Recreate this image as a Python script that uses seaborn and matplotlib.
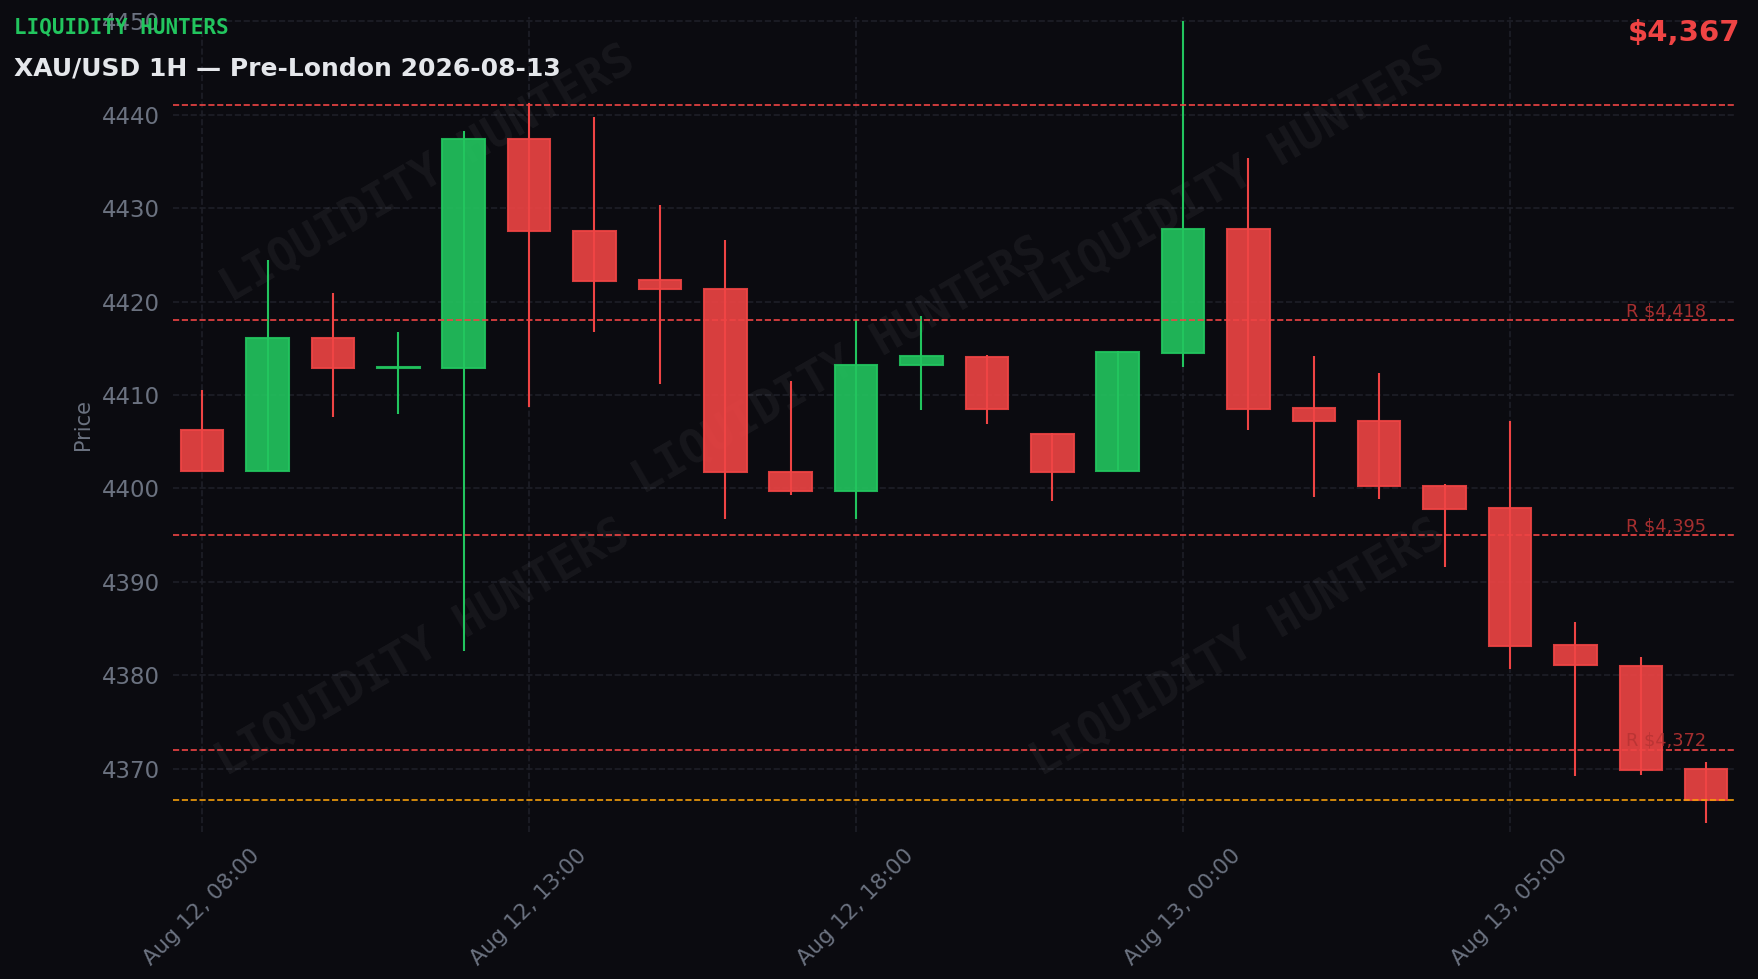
"""
XAU/USD 1H candles, pre-London session, dark "Liquidity Hunters" style.
"""

import matplotlib

matplotlib.use("Agg")
import matplotlib.pyplot as plt
import seaborn as sns
import numpy as np
import pandas as pd

# ---- data ----
# one hourly bar is missing around the daily break, so bars sit on an index axis
times = list(pd.date_range("2026-08-12 08:00", "2026-08-12 21:00", freq="h")) + \
        list(pd.date_range("2026-08-12 23:00", "2026-08-13 08:00", freq="h"))
opens = [4406.3, 4401.9, 4416.1, 4412.9, 4412.9, 4437.4, 4427.5, 4422.3,
         4421.3, 4401.8, 4399.7, 4413.2, 4414.1, 4405.8, 4401.9, 4414.5,
         4427.8, 4408.6, 4407.2, 4400.3, 4397.9, 4383.2, 4381.0, 4370.0]
highs = [4410.5, 4424.4, 4420.9, 4416.7, 4438.3, 4441.3, 4439.8, 4430.3,
         4426.6, 4411.5, 4418.0, 4418.5, 4414.3, 4405.9, 4414.7, 4450.0,
         4435.4, 4414.2, 4412.3, 4400.5, 4407.2, 4385.7, 4381.9, 4370.7]
lows = [4401.9, 4401.9, 4407.6, 4408.0, 4382.6, 4408.7, 4416.7, 4411.2,
        4396.7, 4399.3, 4396.7, 4408.4, 4406.9, 4398.6, 4401.9, 4413.0,
        4406.3, 4399.1, 4398.9, 4391.6, 4380.7, 4369.2, 4369.3, 4364.2]
closes = [4401.9, 4416.1, 4412.9, 4413.0, 4437.4, 4427.5, 4422.2, 4421.3,
          4401.7, 4399.7, 4413.2, 4414.2, 4408.5, 4401.7, 4414.6, 4427.8,
          4408.5, 4407.2, 4400.3, 4397.8, 4383.1, 4381.1, 4369.8, 4366.6]

levels = [4441.0, 4418.0, 4395.0, 4372.0]
level_labels = [None, "R $4,418", "R $4,395", "R $4,372"]
last_price = 4366.6

# ---- style ----
BG = "#0b0b10"
GRID = "#1e1f27"
MUTED = "#6b7280"
GREEN = "#22c55e"
RED = "#ef4444"
ORANGE = "#f59e0b"

sns.set_theme(style="dark", rc={
    "axes.facecolor": BG,
    "figure.facecolor": BG,
    "axes.edgecolor": BG,
    "text.color": MUTED,
    "axes.labelcolor": MUTED,
    "xtick.color": MUTED,
    "ytick.color": MUTED,
})
plt.rcParams["font.family"] = ["DejaVu Sans"]

df = pd.DataFrame({"time": times, "open": opens, "high": highs,
                   "low": lows, "close": closes})
df["x"] = np.arange(len(df))
df["up"] = df["close"] >= df["open"]
df["color"] = np.where(df["up"], GREEN, RED)

fig = plt.figure(figsize=(11.72, 6.527), dpi=150)
ax = fig.add_axes([0.0986, 0.150, 0.8883, 0.833])

width = 0.65

# wicks
ax.vlines(df["x"], df["low"], df["high"], colors=df["color"], linewidth=1.0, zorder=2)

# bodies
body_lo = df[["open", "close"]].min(axis=1)
body_h = (df["close"] - df["open"]).abs().clip(lower=0.08)
ax.bar(df["x"], body_h, bottom=body_lo, width=width, color=df["color"],
       alpha=0.9, edgecolor=df["color"], linewidth=1.0, zorder=3)

# levels
for lvl, lab in zip(levels, level_labels):
    ax.axhline(lvl, color=RED, linestyle="--", linewidth=0.8, zorder=4)
    if lab:
        ax.text(df["x"].iloc[-1], lvl, lab, ha="right", va="bottom",
                fontsize=8.5, color="#b83333", alpha=0.9, zorder=5)
ax.axhline(last_price, color=ORANGE, linestyle="--", linewidth=0.8, zorder=4)

# watermark
for wx, wy in [(0.163, 0.807), (0.682, 0.804), (0.427, 0.571),
               (0.160, 0.225), (0.682, 0.225)]:
    ax.text(wx, wy, "LIQUIDITY HUNTERS", transform=ax.transAxes,
            fontsize=22, fontweight="bold", family="DejaVu Sans Mono",
            color="white", alpha=0.05, rotation=30, ha="center", va="center",
            rotation_mode="anchor", zorder=1)

# axes
ax.set_xlim(-0.44, len(df) - 1 + 0.44)
ax.set_ylim(4363.2, 4450.5)
tick_idx = df["x"].iloc[::5]
ax.set_xticks(tick_idx)
ax.set_xticklabels([df["time"].iloc[i].strftime("%b %d, %H:%M") for i in tick_idx])
ax.tick_params(axis="x", rotation=45, labelsize=10.5, length=3, width=0.8, colors=MUTED)
ax.tick_params(axis="y", labelsize=11, length=3, width=0.8, colors=MUTED)
ax.grid(True, color=GRID, linestyle="--", linewidth=0.8)
ax.set_ylabel("Price", fontsize=10, color=MUTED)
ax.set_xlabel("")
for s in ax.spines.values():
    s.set_visible(False)

# header
fig.text(0.0082, 0.966, "LIQUIDITY HUNTERS", fontsize=10, fontweight="bold",
         family="DejaVu Sans Mono", color=GREEN, va="baseline")
fig.text(0.0082, 0.923, "XAU/USD 1H \u2014 Pre-London 2026-08-13", fontsize=12,
         fontweight="bold", color="#e5e7eb", va="baseline")
fig.text(0.9902, 0.958, f"${last_price:,.0f}", fontsize=14, fontweight="bold",
         color=RED, ha="right", va="baseline")

fig.savefig("out.png", dpi=150, facecolor=BG)
